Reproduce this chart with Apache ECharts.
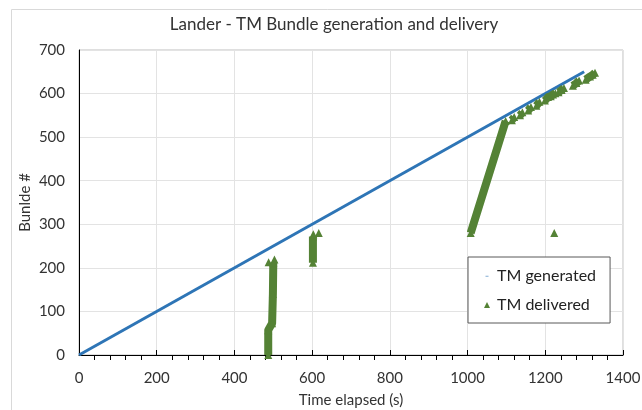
<!DOCTYPE html>
<html><head><meta charset="utf-8">
<script src="https://cdn.jsdelivr.net/npm/echarts@6/dist/echarts.min.js"></script>
<style>html,body{margin:0;padding:0;background:#fff}#c{width:642px;height:410px}</style>
</head><body><div id="c"></div>
<script>
const titleText = 'Lander - TM Bundle generation and delivery';
const xName = 'Time elapsed (s)';
const yName = 'Bunlde #';
const xTicks = [0, 200, 400, 600, 800, 1000, 1200, 1400];
const yTicks = [0, 100, 200, 300, 400, 500, 600, 700];
// TM generated: bundle number vs time
const generated = [[0, 0], [1300, 650]];
// TM delivered: dense runs (null separates runs)
const deliveredRunA = [[487, 0], [487, 57], [497, 73], [499, 140], [500, 212]];
const deliveredTopA = [[488, 213], [503, 219]];
const deliveredRunB = [[602, 212], [602, 272]];
const deliveredTopB = [[603, 277], [617, 280]];
const deliveredRunC = [[1008, 280], [1098, 537]];
const deliveredSteps = [
  [[1114, 539], [1120, 546]],
  [[1135, 550], [1141, 557]],
  [[1156, 561], [1163, 569]],
  [[1177, 572], [1185, 581]],
  [[1199, 584], [1207, 592], [1214, 594], [1220, 598], [1226, 601]],
  [[1234, 603], [1242, 608], [1248, 613]],
  [[1271, 618], [1280, 624], [1287, 630]],
  [[1304, 632], [1315, 639], [1322, 643], [1328, 648]]
];
const deliveredOutlier = [[1223, 280]];

function joinRuns(runs) {
  const out = [];
  runs.forEach((r, i) => { if (i) out.push([null, null]); r.forEach(p => out.push(p)); });
  return out;
}
const deliveredRuns = [deliveredRunA].concat(deliveredTopA.map(p => [p]), [deliveredRunB], deliveredTopB.map(p => [p]), [deliveredRunC], deliveredSteps, [deliveredOutlier]);
const delivered = joinRuns(deliveredRuns);

const FONT = 'Lato';
const BLUE = '#2E75B6', GREEN = '#548235';
const chart = echarts.init(document.getElementById('c'));
chart.setOption({
  animation: false,
  textStyle: { fontFamily: FONT },
  title: { text: titleText, left: 329, textAlign: 'center', top: 11,
    textStyle: { fontFamily: FONT, fontSize: 17, fontWeight: 'normal', color: '#333' } },
  graphic: [{ type: 'rect', shape: { x: 11.5, y: 9.5, width: 700, height: 500 }, silent: true,
    style: { fill: 'none', stroke: '#D9D9D9', lineWidth: 1 } }],
  grid: { left: 79, right: 19, top: 50, bottom: 55, show: true, borderColor: '#BFBFBF', borderWidth: 1,
    outerBoundsMode: 'none', containLabel: false },
  legend: {
    left: 468, top: 257, width: 140, height: 62, orient: 'vertical',
    padding: [11, 14, 10, 16], itemGap: 13, itemWidth: 6, itemHeight: 6,
    borderColor: '#595959', borderWidth: 1, backgroundColor: '#fff',
    textStyle: { fontFamily: FONT, fontSize: 16, color: '#222', padding: [0, 0, 0, 2] },
    data: [
      { name: 'TM generated', icon: 'path://M0,0 M20,20 M5,9.5 L15,9.5 L15,11.5 L5,11.5 Z', itemStyle: { color: BLUE } },
      { name: 'TM delivered', icon: 'triangle', itemStyle: { color: GREEN } }
    ]
  },
  xAxis: {
    type: 'value', min: xTicks[0], max: xTicks[xTicks.length - 1], interval: 200,
    name: xName, nameLocation: 'middle', nameGap: 38, nameMoveOverlap: false,
    nameTextStyle: { fontFamily: FONT, fontSize: 15, color: '#333' },
    axisLine: { lineStyle: { color: '#000', width: 1 } },
    axisTick: { show: true, inside: true, length: 5, lineStyle: { color: '#000' } },
    minorTick: { show: true, splitNumber: 5, length: -5, lineStyle: { color: '#000' } },
    axisLabel: { fontFamily: FONT, fontSize: 15, color: '#333', margin: 16,
      formatter: v => String(v) },
    splitLine: { show: true, lineStyle: { color: '#E3E3E3' } }
  },
  yAxis: {
    type: 'value', min: yTicks[0], max: yTicks[yTicks.length - 1], interval: 100,
    name: yName, nameLocation: 'middle', nameGap: 46, nameRotate: 90, nameMoveOverlap: false,
    nameTextStyle: { fontFamily: FONT, fontSize: 15, color: '#333' },
    axisLine: { show: true, lineStyle: { color: '#000', width: 1 } },
    axisTick: { show: false },
    axisLabel: { fontFamily: FONT, fontSize: 15, color: '#333', margin: 14 },
    splitLine: { show: true, lineStyle: { color: '#E3E3E3' } }
  },
  series: [
    { name: 'TM generated', type: 'line', data: generated, showSymbol: false, symbol: 'none',
      lineStyle: { color: BLUE, width: 3 }, itemStyle: { color: BLUE }, z: 2 },
    { name: 'TM delivered', type: 'line', data: delivered, connectNulls: false,
      symbol: 'triangle', symbolSize: 8, showAllSymbol: true,
      lineStyle: { color: GREEN, width: 8, cap: 'butt', join: 'round' }, itemStyle: { color: GREEN }, z: 3 }
  ]
});
</script></body></html>
